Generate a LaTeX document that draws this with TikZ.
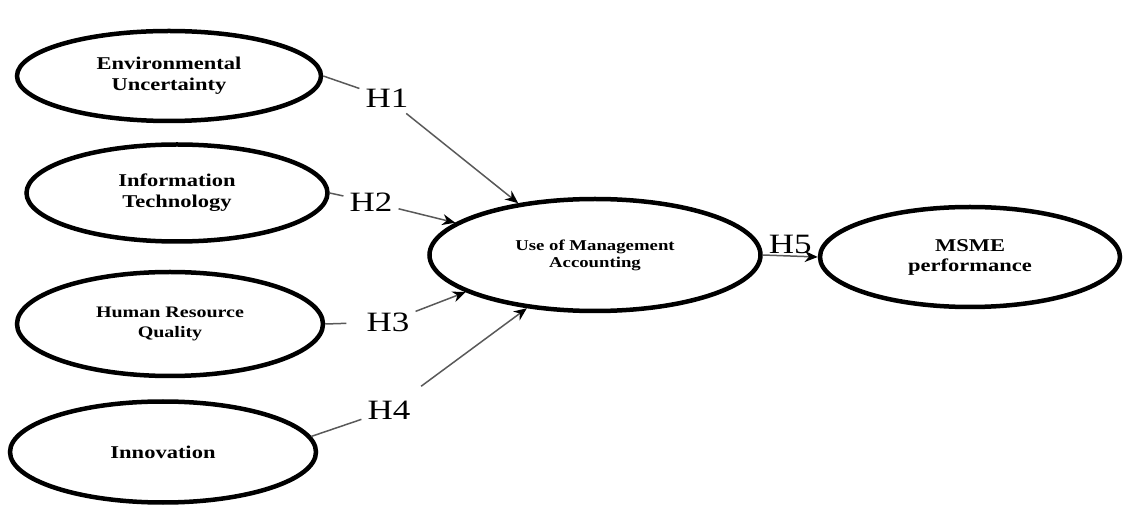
\documentclass[tikz,border=0pt]{standalone}
\usepackage{fontspec}
\setmainfont{Liberation Serif}[FakeStretch=1.25]
\usetikzlibrary{shapes.geometric, arrows.meta}

\newcommand{\cfont}[2]{\fontsize{#1}{#2}\selectfont\bfseries}

\begin{document}
\begin{tikzpicture}[>={Stealth[length=13pt, width=11pt, color=black]}, x=1pt, y=-1pt,
  construct/.style={draw, ellipse, line width=4.5pt, inner sep=0pt, align=center},
  hyp/.style={font=\fontsize{28}{28}\selectfont, inner sep=6pt},
  link/.style={draw=black!65, line width=1.5pt}]
  \useasboundingbox (0,0) rectangle (1125,510);
  % Constructs
  \node[construct, minimum width=304pt, minimum height=90pt, font=\cfont{18}{21}]
    (env) at (169,76) {Environmental\\Uncertainty};
  \node[construct, minimum width=301pt, minimum height=97pt, font=\cfont{18}{21}]
    (it) at (177,193) {Information\\Technology};
  \node[construct, minimum width=306pt, minimum height=104pt, font=\cfont{16}{20}]
    (hrq) at (170,324) {Human Resource\\Quality};
  \node[construct, minimum width=306pt, minimum height=101pt, font=\cfont{18}{21}]
    (inn) at (163,452) {Innovation};
  \node[construct, minimum width=331pt, minimum height=112pt, font=\cfont{15}{17}]
    (use) at (595,255) {Use of Management\\Accounting};
  \node[construct, minimum width=300pt, minimum height=100pt, font=\cfont{18}{20}]
    (msme) at (970,257) {MSME\\performance};
  % Hypothesis labels
  \node[hyp] (h1) at (387,98) {H1};
  \node[hyp] (h2) at (371,202) {H2};
  \node[hyp] (h3) at (388,322) {H3};
  \node[hyp] (h4) at (389,410) {H4};
  % Paths
  \draw[link] (env.east) -- (h1);
  \draw[link, ->] (h1) -- (use.146);
  \draw[link] (it.east) -- (h2);
  \draw[link, ->] (h2) -- (use.167);
  \draw[link, shorten >=14pt] (hrq.east) -- (h3);
  \draw[link, ->] (h3) -- (use.196);
  \draw[link] (inn.6) -- (h4);
  \draw[link, ->, shorten <=14pt] (h4) -- (use.218);
  \draw[link, ->] (use.east) -- node[hyp, above, inner sep=1pt] (h5) {H5} (msme.west);
\end{tikzpicture}
\end{document}
